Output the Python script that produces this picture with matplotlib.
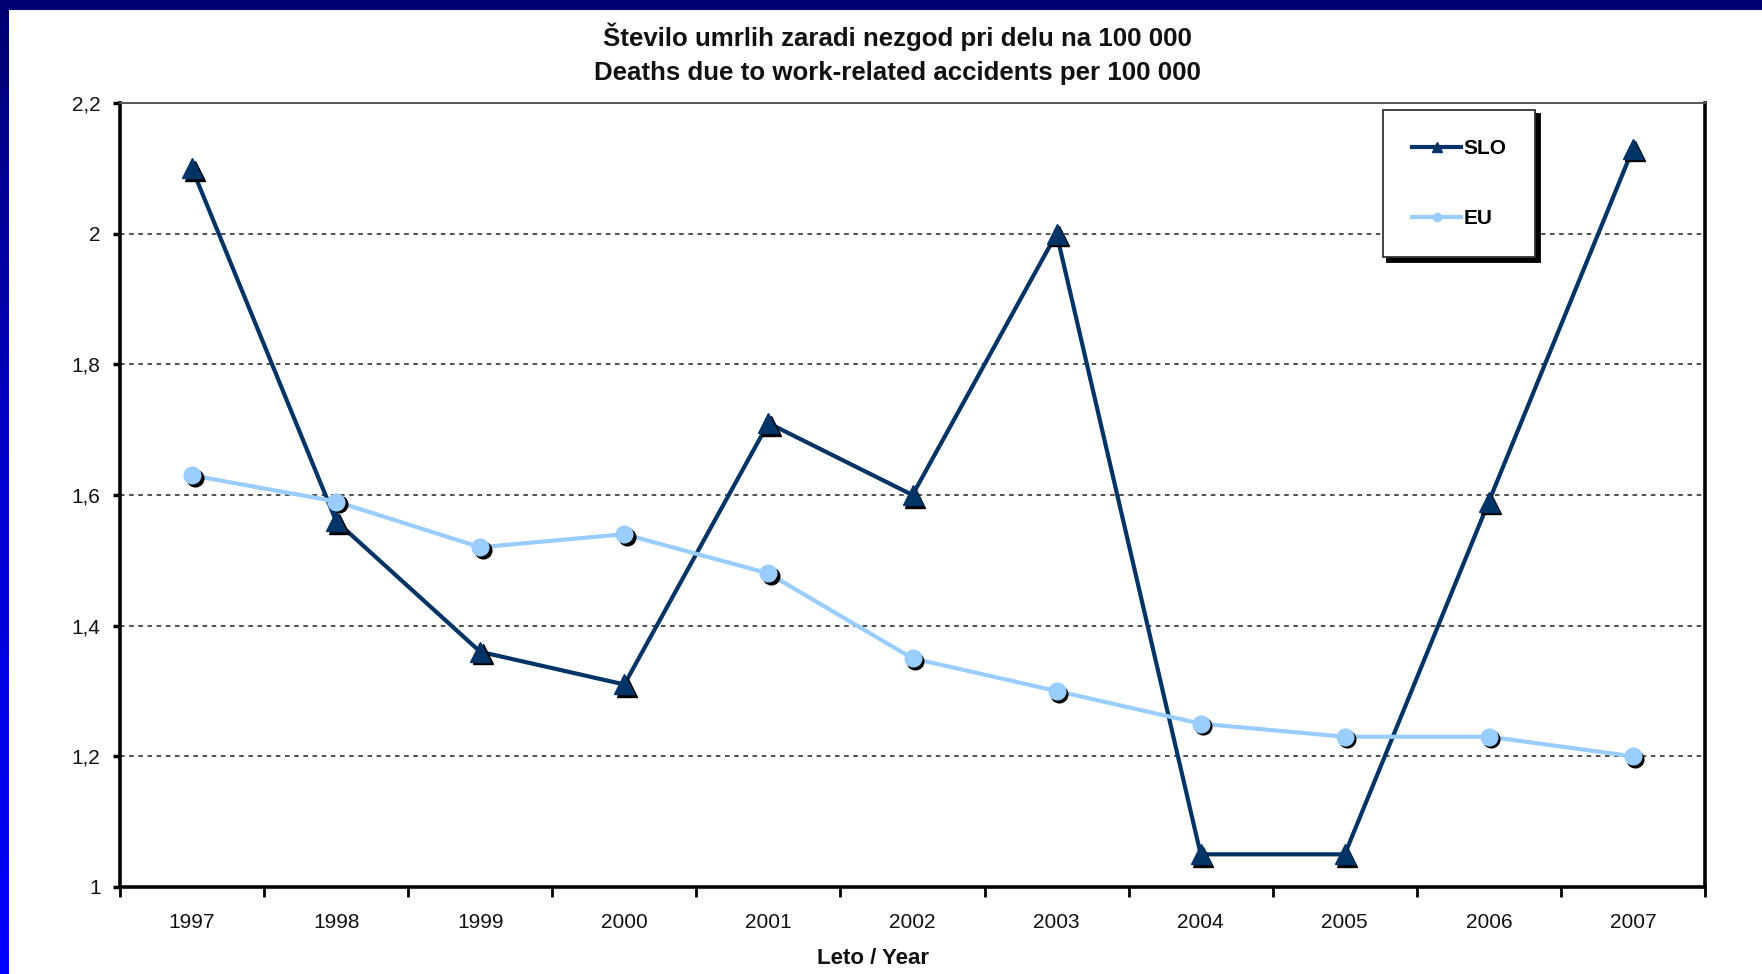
import numpy as np
import matplotlib
matplotlib.use("Agg")
import matplotlib.pyplot as plt
import matplotlib.transforms as mtransforms
from matplotlib.lines import Line2D
from matplotlib.colors import LinearSegmentedColormap

years = ["1997", "1998", "1999", "2000", "2001", "2002", "2003", "2004", "2005", "2006", "2007"]
slo = [2.10, 1.56, 1.36, 1.31, 1.71, 1.60, 2.00, 1.05, 1.05, 1.59, 2.13]
eu = [1.63, 1.59, 1.52, 1.54, 1.48, 1.35, 1.30, 1.25, 1.23, 1.23, 1.20]
yticks = [1, 1.2, 1.4, 1.6, 1.8, 2, 2.2]
ytick_labels = ["1", "1,2", "1,4", "1,6", "1,8", "2", "2,2"]
title1 = "Število umrlih zaradi nezgod pri delu na 100 000"
title2 = "Deaths due to work-related accidents per 100 000"
xlabel = "Leto / Year"
series_names = ["SLO", "EU"]

SLO_C = "#003366"
EU_C = "#99CCFF"

plt.rcParams['font.family'] = ['Liberation Sans', 'DejaVu Sans']

W, H = 1762, 974
fig = plt.figure(figsize=(W / 100, H / 100), dpi=100)
fig.patch.set_facecolor("white")

# blue frame: top bar and left gradient bar
bar_ax = fig.add_axes([0, 0, 9 / W, 1])
grad = np.linspace(0, 1, 256).reshape(-1, 1)
cmap = LinearSegmentedColormap.from_list("b", ["#0000FF", "#0000D0", "#000070"])
bar_ax.imshow(grad, aspect="auto", cmap=cmap, origin="lower", extent=[0, 1, 0, 1])
bar_ax.axis("off")
top_ax = fig.add_axes([0, 1 - 10 / H, 1, 10 / H])
top_ax.set_facecolor("#000070")
top_ax.set_xticks([]); top_ax.set_yticks([])
for s in top_ax.spines.values():
    s.set_visible(False)

L, R, T, B = 120, 1705, 103, 887
ax = fig.add_axes([L / W, 1 - B / H, (R - L) / W, (B - T) / H])
x = np.arange(len(years))

shadow = mtransforms.offset_copy(ax.transData, fig=fig, x=2.5, y=-2.5, units="dots")

ax.plot(x, slo, color=SLO_C, lw=3.0, zorder=3, solid_joinstyle="round")
ax.plot(x, slo, ls="none", marker="^", ms=15, color="black", transform=shadow, zorder=3.1)
ax.plot(x, slo, ls="none", marker="^", ms=15, color=SLO_C, zorder=3.2)

ax.plot(x, eu, color=EU_C, lw=3.0, zorder=4, solid_joinstyle="round")
ax.plot(x, eu, ls="none", marker="o", ms=12, color="black", transform=shadow, zorder=4.1)
ax.plot(x, eu, ls="none", marker="o", ms=12, color=EU_C, zorder=4.2)

ax.set_xlim(-0.5, len(years) - 0.5)
ax.set_ylim(1, 2.2)
ax.set_yticks(yticks)
ax.set_yticklabels(ytick_labels, fontsize=15, color="#111111")
ax.set_xticks(x)
ax.set_xticklabels(years, fontsize=15, color="#111111")
ax.set_xticks(np.arange(len(years) + 1) - 0.5, minor=True)
ax.tick_params(axis="x", which="major", length=0, pad=19)
ax.tick_params(axis="x", which="minor", length=7, width=2, direction="out", color="black")
ax.tick_params(axis="y", which="major", length=5, width=2.5, direction="out", pad=9)

for yv in yticks[1:-1]:
    ax.axhline(yv, color="#222222", lw=1.1, ls=(0, (3, 3)), zorder=1)

for side in ["left", "bottom", "right"]:
    ax.spines[side].set_linewidth(2.6)
    ax.spines[side].set_color("black")
ax.spines["top"].set_linewidth(1.4)
ax.spines["top"].set_color("#555555")

fig.text(897 / W, 1 - 37 / H, title1, ha="center", va="center", fontsize=18.6, fontweight="bold", color="#111111")
fig.text(897 / W, 1 - 73 / H, title2, ha="center", va="center", fontsize=18.6, fontweight="bold", color="#111111")
fig.text(873 / W, 1 - 958 / H, xlabel, ha="center", va="center", fontsize=16, fontweight="bold", color="#111111")

handles = [
    Line2D([], [], color=SLO_C, lw=3, marker="^", ms=7),
    Line2D([], [], color=EU_C, lw=3, marker="o", ms=6),
]
leg = ax.legend(handles, series_names, loc="upper left",
                bbox_to_anchor=((1383 - L) / (R - L), 1 - (110 - T) / (B - T)),
                frameon=True, fancybox=False, shadow={"color": "black", "alpha": 1, "ox": 3, "oy": -3},
                borderpad=1.4, labelspacing=2.45, handlelength=2.35, handletextpad=0.1,
                borderaxespad=0, prop={"weight": "bold", "size": 15})
leg.get_frame().set_edgecolor("#333333")
leg.get_frame().set_linewidth(1.3)
leg.get_frame().set_facecolor("white")
leg.set_zorder(10)

fig.savefig("out.png", dpi=100, facecolor="white")
